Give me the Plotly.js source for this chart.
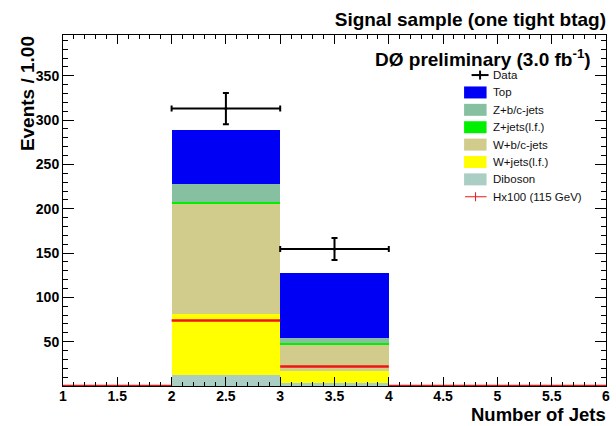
<!DOCTYPE html>
<html>
<head>
<meta charset="utf-8">
<script src="https://cdn.plot.ly/plotly-3.0.1.min.js"></script>
<style>html,body{margin:0;padding:0;background:#fff;}#chart{width:616px;height:426px;}</style>
</head>
<body>
<div id="chart"></div>
<script>
// ---- data ----
var binCenters = [2.5, 3.5];
var binWidth = [1, 1];
var diboson = [12, 3];
var wjetsLF = [69, 14];
var wbcJets = [124, 29.5];
var zjetsLF = [3, 1.5];
var zbcJets = [20, 6];
var topQuark = [61, 73.5];
var dataCounts = [313, 154.5];
var dataErrX = [0.5, 0.5];
var dataErrY = [17.7, 12.4];
var signalEdges = [1, 2, 3, 4, 5, 6];
var signalValues = [0, 74, 22, 0, 0];
var seriesNames = ["Data", "Top", "Z+b/c-jets", "Z+jets(l.f.)", "W+b/c-jets", "W+jets(l.f.)", "Diboson", "Hx100 (115 GeV)"];
var xTickVals = [1, 1.5, 2, 2.5, 3, 3.5, 4, 4.5, 5, 5.5, 6];
var yTickVals = [50, 100, 150, 200, 250, 300, 350];

// ---- styles ----
var C = {
  top: "rgb(0,0,245)",
  zbc: "rgb(134,192,160)",
  zlf: "rgb(0,240,0)",
  wbc: "rgb(210,204,140)",
  wlf: "rgb(255,255,0)",
  dib: "rgb(170,206,196)",
  sig: "rgb(240,20,20)"
};

function barTrace(vals, name, color) {
  return {type: "bar", x: binCenters, y: vals, width: binWidth, name: name,
          marker: {color: color, line: {width: 0}}, showlegend: false, hoverinfo: "skip"};
}

var traces = [
  barTrace(diboson, seriesNames[6], C.dib),
  barTrace(wjetsLF, seriesNames[5], C.wlf),
  barTrace(wbcJets, seriesNames[4], C.wbc),
  barTrace(zjetsLF, seriesNames[3], C.zlf),
  barTrace(zbcJets, seriesNames[2], C.zbc),
  barTrace(topQuark, seriesNames[1], C.top)
];

// signal histogram as horizontal bin segments
var sx = [], sy = [];
for (var i = 0; i < signalValues.length; i++) {
  sx.push(signalEdges[i], signalEdges[i + 1], null);
  sy.push(signalValues[i], signalValues[i], null);
}
traces.push({type: "scatter", mode: "lines", x: sx, y: sy, name: seriesNames[7],
  line: {color: C.sig, width: 2.5}, showlegend: false, hoverinfo: "skip"});

traces.push({type: "scatter", mode: "markers", x: binCenters, y: dataCounts, name: seriesNames[0],
  marker: {color: "black", size: 3},
  error_x: {type: "data", array: dataErrX, color: "black", thickness: 2, width: 3},
  error_y: {type: "data", array: dataErrY, color: "black", thickness: 2, width: 3},
  showlegend: false, hoverinfo: "skip"});

// ---- layout helpers (pixel -> paper) ----
var PL = 62.7, PR = 606, PT = 34.7, PB = 386;
function px(x) { return (x - PL) / (PR - PL); }
function py(y) { return (PB - y) / (PB - PT); }

var shapes = [], annotations = [];
var legX0 = 464, legX1 = 486.5, legTextX = 491.5;
var legFills = [null, C.top, C.zbc, C.zlf, C.wbc, C.wlf, C.dib, null];
for (var k = 0; k < seriesNames.length; k++) {
  var yc = 74.8 + k * 17.4;
  if (k === 0) {
    shapes.push({type: "line", xref: "paper", yref: "paper", x0: px(471.5), x1: px(488.5), y0: py(yc), y1: py(yc), line: {color: "black", width: 2}});
    shapes.push({type: "line", xref: "paper", yref: "paper", x0: px(480), x1: px(480), y0: py(yc - 4.5), y1: py(yc + 4.5), line: {color: "black", width: 2}});
  } else if (k === seriesNames.length - 1) {
    shapes.push({type: "line", xref: "paper", yref: "paper", x0: px(465), x1: px(486.5), y0: py(yc), y1: py(yc), line: {color: C.sig, width: 1}});
    shapes.push({type: "line", xref: "paper", yref: "paper", x0: px(475.5), x1: px(475.5), y0: py(yc - 4.5), y1: py(yc + 4.5), line: {color: C.sig, width: 1}});
  } else {
    shapes.push({type: "rect", xref: "paper", yref: "paper", x0: px(legX0), x1: px(legX1), y0: py(yc + 6), y1: py(yc - 6), fillcolor: legFills[k], line: {width: 0}});
  }
  annotations.push({xref: "paper", yref: "paper", x: px(legTextX), y: py(yc), xanchor: "left", yanchor: "middle",
    text: seriesNames[k], showarrow: false, borderpad: 0,
    font: {family: "Liberation Sans, Arial, sans-serif", size: 11.5, color: "#111"}});
}

annotations.push({xref: "paper", yref: "paper", x: px(592), y: py(58), xanchor: "right", yanchor: "middle",
  text: "DØ preliminary (3.0 fb<sup>-1</sup>)", showarrow: false, borderpad: 0,
  font: {family: "Liberation Sans, Arial, sans-serif", size: 19, weight: "bold", color: "black"}});
annotations.push({xref: "paper", yref: "paper", x: px(607), y: py(415), xanchor: "right", yanchor: "middle",
  text: "Number of Jets", showarrow: false, borderpad: 0,
  font: {family: "Liberation Sans, Arial, sans-serif", size: 18.5, weight: "bold", color: "black"}});
annotations.push({xref: "paper", yref: "paper", x: px(27), y: py(35), xanchor: "center", yanchor: "top",
  text: "Events / 1.00", textangle: -90, showarrow: false, borderpad: 0,
  font: {family: "Liberation Sans, Arial, sans-serif", size: 19, weight: "bold", color: "black"}});

var tickFont = {family: "Liberation Sans, Arial, sans-serif", size: 14, weight: "bold", color: "black"};

var layout = {
  width: 616, height: 426,
  margin: {l: PL, r: 616 - PR, t: PT, b: 426 - PB, pad: 0},
  paper_bgcolor: "white", plot_bgcolor: "white",
  barmode: "stack", bargap: 0,
  showlegend: false,
  title: {text: "Signal sample (one tight btag)", xref: "paper", x: 1, xanchor: "right",
          yref: "container", y: 1 - 19 / 426, yanchor: "middle",
          font: {family: "Liberation Sans, Arial, sans-serif", size: 19, weight: "bold", color: "black"}},
  xaxis: {range: [1, 6], tickvals: xTickVals, ticktext: xTickVals.map(String), ticks: "inside", ticklen: 9, tickwidth: 1,
          tickcolor: "black", showline: true, linecolor: "black", linewidth: 1, mirror: "ticks",
          showgrid: false, zeroline: false, tickfont: tickFont, ticklabelstandoff: -3,
          minor: {dtick: 0.1, tick0: 1, ticks: "inside", ticklen: 4, tickcolor: "black", showgrid: false}},
  yaxis: {range: [0, 396], tickvals: yTickVals, ticktext: yTickVals.map(String), ticks: "inside", ticklen: 11, tickwidth: 1,
          tickcolor: "black", showline: true, linecolor: "black", linewidth: 1, mirror: "ticks",
          showgrid: false, zeroline: false, tickfont: tickFont,
          minor: {dtick: 10, tick0: 0, ticks: "inside", ticklen: 5, tickcolor: "black", showgrid: false}},
  shapes: shapes,
  annotations: annotations
};

Plotly.newPlot("chart", traces, layout, {staticPlot: true, displayModeBar: false});
</script>
</body>
</html>
